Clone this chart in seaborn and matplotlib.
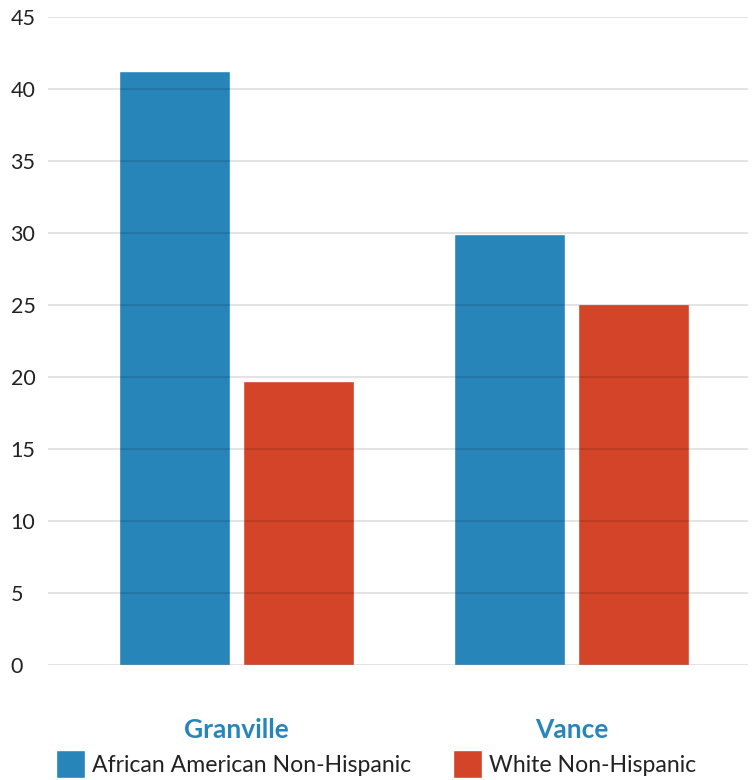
import matplotlib
matplotlib.use("Agg")
import matplotlib.pyplot as plt
import seaborn as sns
import pandas as pd

counties = ["Granville", "Vance"]
groups = ["African American Non-Hispanic", "White Non-Hispanic"]
african_american = [41.25, 29.95]
white = [19.75, 25.05]
y_ticks = [0, 5, 10, 15, 20, 25, 30, 35, 40, 45]

df = pd.DataFrame({
    "county": counties * 2,
    "group": [groups[0]] * 2 + [groups[1]] * 2,
    "value": african_american + white,
})

sns.set_theme(style="white")
plt.rcParams["font.family"] = ["Lato", "DejaVu Sans"]

blue = "#2885BA"
red = "#D44429"

fig = plt.figure(figsize=(7.54, 7.8), dpi=100)
ax = fig.add_axes([48 / 754, 115 / 780, 700 / 754, 648 / 780])

sns.barplot(data=df, x="county", y="value", hue="group", order=counties,
            hue_order=groups, palette=[blue, red], width=0.74, gap=0.105,
            saturation=1, ax=ax, legend=True)

ax.set_xlim(-0.562, 1.525)
ax.set_ylim(0, 45)
ax.set_yticks(y_ticks)
ax.set_yticklabels([str(t) for t in y_ticks], fontsize=15.5, color="#222222",
                   ha="left")
ax.tick_params(axis="y", length=0, pad=27)
ax.tick_params(axis="x", length=0, pad=38)
for lab in ax.get_xticklabels():
    lab.set_fontsize(19)
    lab.set_fontweight("bold")
    lab.set_color(blue)
ax.set_xlabel("")
ax.set_ylabel("")
ax.set_axisbelow(False)
ax.yaxis.grid(True, color="black", alpha=0.11, linewidth=1.5)
ax.xaxis.grid(False)
for s in ax.spines.values():
    s.set_visible(False)

handles, labels = ax.get_legend_handles_labels()
ax.get_legend().remove()
fig.legend(handles, labels, loc="lower left", bbox_to_anchor=(56 / 754, 2 / 780),
           ncol=2, frameon=False, fontsize=16.6, handlelength=1.26,
           handleheight=1.5, handletextpad=0.3, columnspacing=1.8,
           borderpad=0, borderaxespad=0, labelcolor="#222222")

fig.savefig("out.png", dpi=100)
